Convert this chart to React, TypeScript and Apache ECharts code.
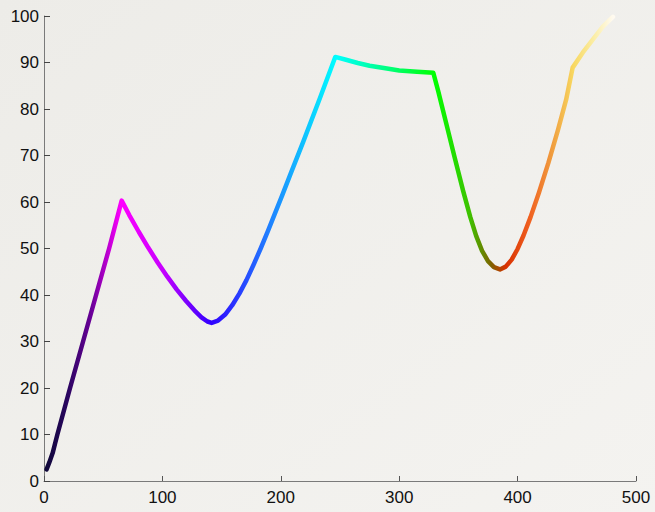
import React, { useEffect, useRef } from "react";
import * as echarts from "echarts";

const xValues = [2.2, 4.5, 7.3, 9.3, 11.3, 22, 33, 44, 55, 65.6, 72, 80, 88, 96, 104, 112, 120, 127, 133, 138, 141.6, 147, 153, 159, 165, 171, 177, 183, 189, 195, 201, 208, 219, 233, 246, 255, 265, 275, 287, 300, 315, 328.8, 333, 340, 347, 354, 360, 365, 370, 375, 380, 385.1, 390, 395, 400, 405, 411, 418, 426, 434, 441, 446.5, 455, 464.3, 472, 480.5];
const yValues = [2.5, 4, 6, 8, 10, 20, 30, 40, 50, 60.3, 57.2, 53.6, 50.2, 47, 44, 41.2, 38.7, 36.7, 35.2, 34.3, 34, 34.5, 35.8, 37.8, 40.3, 43.2, 46.5, 50, 53.7, 57.5, 61.3, 65.9, 73, 82.3, 91.2, 90.6, 89.9, 89.3, 88.8, 88.3, 88, 87.8, 83.8, 76.6, 69.4, 62.4, 56.8, 52.7, 49.5, 47.3, 46, 45.5, 46.1, 47.6, 49.9, 52.8, 56.8, 62, 68.4, 75.4, 82, 88.9, 92.1, 95.2, 97.7, 99.8];

const colorStopX = [2, 20, 40, 65, 100, 141, 190, 247, 290, 330, 360, 378, 390, 410, 430, 447, 465, 480.5];
const colorStopColors = ["#10083a", "#2a0560", "#6a0098", "#ff00ff", "#c800ff", "#3000ff", "#2080ff", "#00ffff", "#00ff80", "#00ff00", "#40c000", "#806000", "#d83000", "#f06020", "#f0a040", "#f8d860", "#fbeea8", "#fffaf0"];

const xTicks = [0, 100, 200, 300, 400, 500];
const yTicks = [0, 10, 20, 30, 40, 50, 60, 70, 80, 90, 100];

export default function App() {
  const ref = useRef<HTMLDivElement>(null);
  useEffect(() => {
    if (!ref.current) return;
    const chart = echarts.init(ref.current, undefined, { renderer: "svg" });
    const x0 = xValues[0];
    const x1 = xValues[xValues.length - 1];
    const stops = colorStopX.map((x, i) => ({
      offset: Math.min(1, Math.max(0, (x - x0) / (x1 - x0))),
      color: colorStopColors[i],
    }));
    const font = "Liberation Sans, Arial, sans-serif";
    chart.setOption({
      animation: false,
      backgroundColor: new echarts.graphic.LinearGradient(0, 0, 1, 1, [
        { offset: 0, color: "#edece8" },
        { offset: 1, color: "#f4f3f0" },
      ]),
      grid: { left: 44, right: 19, top: 16, bottom: 31 },
      xAxis: {
        type: "value",
        min: xTicks[0],
        max: xTicks[xTicks.length - 1],
        interval: 100,
        splitLine: { show: false },
        axisLine: { show: true, lineStyle: { color: "#7a7a7a", width: 1 } },
        axisTick: { show: true, inside: true, length: 5, lineStyle: { color: "#555" } },
        axisLabel: {
          color: "#111",
          fontSize: 17,
          fontFamily: font,
          margin: 8,
          showMinLabel: true,
          showMaxLabel: true,
          formatter: (v: number) => (xTicks.includes(v) ? String(v) : ""),
        },
      },
      yAxis: {
        type: "value",
        min: yTicks[0],
        max: yTicks[yTicks.length - 1],
        interval: 10,
        splitLine: { show: false },
        axisLine: { show: true, lineStyle: { color: "#7a7a7a", width: 1 } },
        axisTick: { show: true, inside: true, length: 6, lineStyle: { color: "#444" } },
        axisLabel: {
          color: "#111",
          fontSize: 17,
          fontFamily: font,
          margin: 5,
          formatter: (v: number) => (yTicks.includes(v) ? String(v) : ""),
        },
      },
      series: [
        {
          type: "line",
          data: xValues.map((x, i) => [x, yValues[i]]),
          showSymbol: false,
          smooth: false,
          lineStyle: {
            width: 4.5,
            cap: "round",
            join: "round",
            color: new echarts.graphic.LinearGradient(0, 0, 1, 0, stops),
          },
        },
      ],
    });
    return () => chart.dispose();
  }, []);
  return (
    <div
      ref={ref}
      style={{ position: "absolute", left: 0, top: 0, width: 655, height: 512 }}
    />
  );
}
